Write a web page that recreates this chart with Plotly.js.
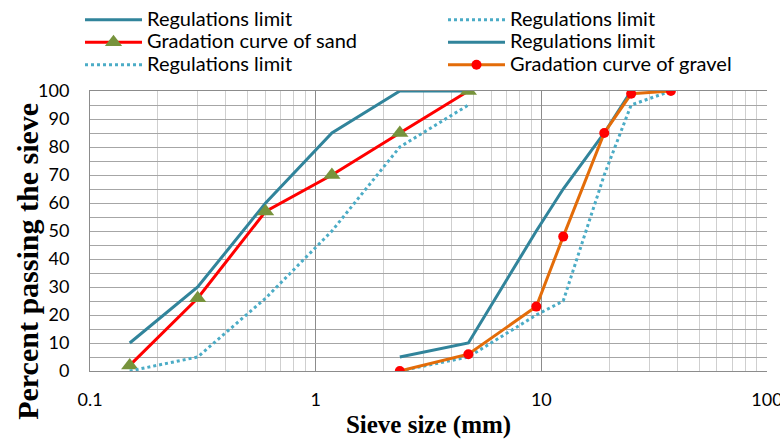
<!DOCTYPE html>
<html>
<head>
<meta charset="utf-8">
<script src="https://cdn.plot.ly/plotly-3.0.1.min.js"></script>
<style>html,body{margin:0;padding:0;background:#fff}#chart{width:780px;height:439px}</style>
</head>
<body>
<div id="chart"></div>
<script>
// Sieve sizes (mm)
var sandSieves = [0.15, 0.3, 0.6, 1.18, 2.36, 4.75];
var sandUpper = [10, 30, 60, 85, 100, 100];
var sandLower = [0, 5, 26, 50, 80, 95];
var sandPassing = [2, 26, 57, 70, 85, 100];

var gravelSieves = [2.36, 4.75, 9.5, 12.5, 19, 25, 37.5];
var gravelUpperSieves = [2.36, 4.75, 9.5, 12.5, 19, 25];
var gravelUpper = [5, 10, 50, 65, 85, 100];
var gravelLower = [0, 5, 20, 25, 70, 95, 100];
var gravelPassing = [0, 6, 23, 48, 85, 99, 100];

var xTickVals = [0.1, 1, 10, 100];
var xTickText = ['0.1', '1', '10', '100'];

var teal = '#31849B', dotc = '#4BACC6';
var fontSans = 'Lato, Calibri, sans-serif';
var fontSerif = '"Liberation Serif", "Times New Roman", serif';

function lg(s) { return '<span style="font-size:20px">' + s + '</span>'; }

var traces = [
  {x: sandSieves, y: sandUpper, name: lg('Regulations limit'), mode: 'lines', legend: 'legend',
   line: {color: teal, width: 3}},
  {x: sandSieves, y: sandPassing, name: lg('Gradation curve of sand'), mode: 'lines+markers', legend: 'legend',
   line: {color: '#FF0000', width: 3},
   marker: {symbol: 'triangle-up', size: 15, color: '#77933C'}},
  {x: sandSieves, y: sandLower, name: lg('Regulations limit'), mode: 'lines', legend: 'legend',
   line: {color: dotc, width: 3, dash: 'dot'}},
  {x: gravelSieves, y: gravelLower, name: lg('Regulations limit'), mode: 'lines', legend: 'legend2',
   line: {color: dotc, width: 3, dash: 'dot'}},
  {x: gravelUpperSieves, y: gravelUpper, name: lg('Regulations limit'), mode: 'lines', legend: 'legend2',
   line: {color: teal, width: 3}},
  {x: gravelSieves, y: gravelPassing, name: lg('Gradation curve of gravel'), mode: 'lines+markers', legend: 'legend2',
   line: {color: '#E36C09', width: 3},
   marker: {symbol: 'circle', size: 10, color: '#FF0000'}}
];

function legendAt(xpx) {
  return {
    orientation: 'v', xref: 'container', yref: 'container',
    x: xpx / 780, y: 1 - 3.5 / 439, xanchor: 'left', yanchor: 'top',
    itemwidth: 57, tracegroupgap: 0, traceorder: 'normal',
    font: {family: fontSans, size: 15, color: '#000'},
    bgcolor: 'rgba(0,0,0,0)'
  };
}

var layout = {
  width: 780, height: 439,
  margin: {l: 90, r: 13, t: 91, b: 68, autoexpand: false},
  paper_bgcolor: '#fff', plot_bgcolor: '#fff',
  font: {family: fontSans, size: 18, color: '#000'},
  showlegend: true,
  legend: legendAt(80),
  legend2: legendAt(443),
  xaxis: {
    type: 'log', range: [-1, 2],
    tickvals: xTickVals, ticktext: xTickText,
    showgrid: true, gridcolor: '#8C8C8C', gridwidth: 1,
    minor: {dtick: 'D1', showgrid: true, gridcolor: '#CFCFCF', gridwidth: 1, ticks: ''},
    showline: true, mirror: true, linecolor: '#8C8C8C', linewidth: 1,
    ticks: '', ticklabelstandoff: 12, ticklabeloverflow: 'allow',
    zeroline: false,
    tickfont: {family: fontSans, size: 18, color: '#000'},
    title: {text: '<b>Sieve size (mm)</b>', font: {family: fontSerif, size: 25, color: '#000'}, standoff: 10}
  },
  yaxis: {
    range: [0, 100], dtick: 10,
    showgrid: true, gridcolor: '#A6A6A6', gridwidth: 1,
    minor: {dtick: 5, showgrid: true, gridcolor: '#A6A6A6', gridwidth: 1, ticks: ''},
    showline: true, linecolor: '#8C8C8C', linewidth: 1,
    ticks: '', ticklabelstandoff: 16, zeroline: false,
    tickfont: {family: fontSans, size: 18, color: '#000'}
  },
  annotations: [{
    text: '<b>Percent passing the sieve</b>', textangle: -90,
    xref: 'paper', yref: 'paper', x: -62 / 677, y: 0.39,
    xanchor: 'center', yanchor: 'middle', showarrow: false,
    font: {family: fontSerif, size: 30, color: '#000'}
  }]
};

Plotly.newPlot('chart', traces, layout, {displayModeBar: false, staticPlot: true});
</script>
</body>
</html>
